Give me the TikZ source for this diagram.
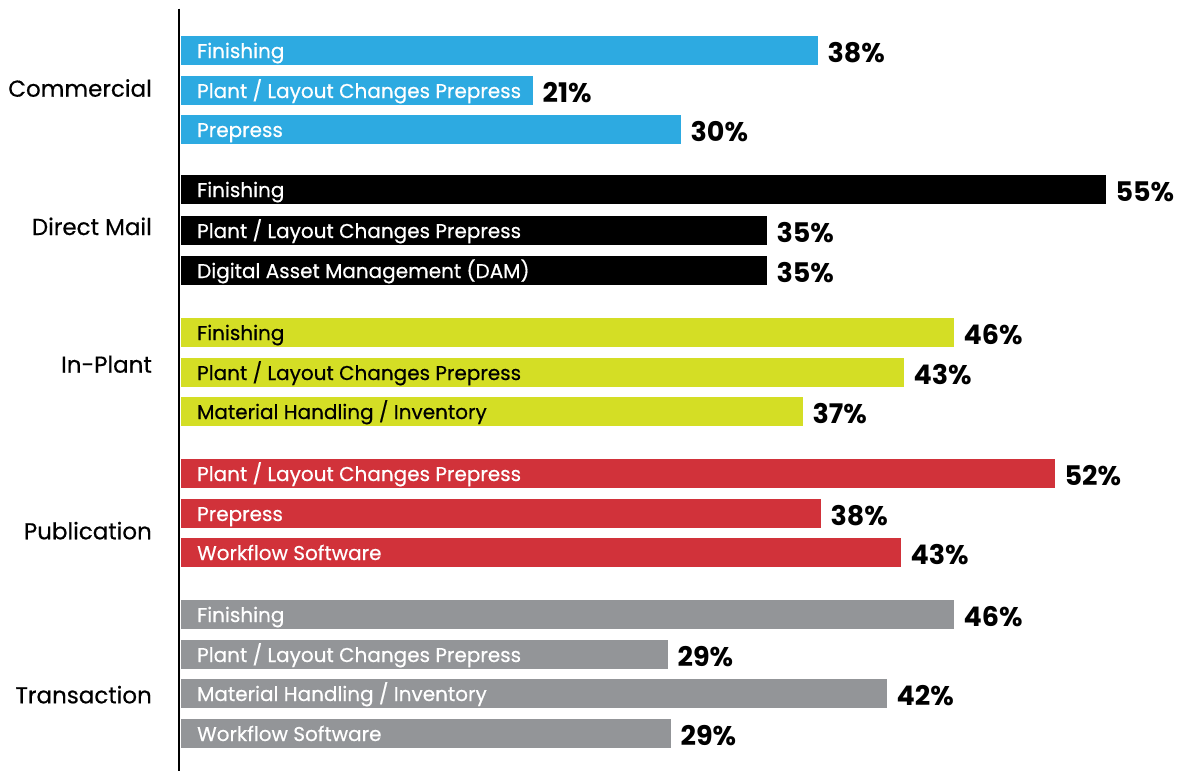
\documentclass[tikz,border=0pt]{standalone}
\usepackage{fontspec}
\setmainfont{Poppins}
\newfontfamily\medfont{Poppins}[FakeBold=0.5]
\definecolor{cblue}{HTML}{2DAAE1}
\definecolor{cblack}{HTML}{000000}
\definecolor{cyellow}{HTML}{D4DE25}
\definecolor{cred}{HTML}{D1323A}
\definecolor{cgray}{HTML}{939598}
\newcommand{\mybar}[6]{%
  \node[barbox, fill=#4, minimum width={#3-180.5}, anchor=north west] (#1) at (180.5,#2) {};
  \node[barlabel] (#1-t) at ([xshift=16.5pt,yshift=-22pt]#1.north west) {#5};
  \node[pctlabel] (#1-p) at ([xshift=9pt,yshift=-26pt]#1.north east) {#6};
}
\begin{document}
\begin{tikzpicture}[x=1pt,y=-1pt,
  barbox/.style={rectangle, draw=none, inner sep=0pt, minimum height=28.7pt},
  barlabel/.style={anchor=base west, inner sep=0pt, text=white, font=\medfont\fontsize{20}{24}\selectfont},
  pctlabel/.style={anchor=base west, inner sep=0pt, text=black, font=\fontsize{27}{30}\selectfont\bfseries},
  catlabel/.style={anchor=base east, inner sep=0pt, text=black, font=\medfont\fontsize{23}{26}\selectfont}]
\useasboundingbox[fill=white] (0,0) rectangle (1181,771);
\coordinate (axtop) at (179.3,8.5);
\coordinate (axbot) at (179.3,771);
\draw[line width=2pt, black] (axtop) -- (axbot);
% Commercial
\mybar{c1}{36}{818}{cblue}{Finishing}{38\%}
\mybar{c2}{76}{533}{cblue}{Plant / Layout Changes Prepress}{21\%}
\mybar{c3}{115}{681}{cblue}{Prepress}{30\%}
% Direct Mail
\mybar{d1}{175}{1106}{cblack}{Finishing}{55\%}
\mybar{d2}{216}{767}{cblack}{Plant / Layout Changes Prepress}{35\%}
\mybar{d3}{256}{767}{cblack}{Digital Asset Management (DAM)}{35\%}
% In-Plant
\mybar{i1}{318}{954}{cyellow}{\color{black}Finishing}{46\%}
\mybar{i2}{358}{904}{cyellow}{\color{black}Plant / Layout Changes Prepress}{43\%}
\mybar{i3}{397}{803}{cyellow}{\color{black}Material Handling / Inventory}{37\%}
% Publication
\mybar{p1}{459}{1055}{cred}{Plant / Layout Changes Prepress}{52\%}
\mybar{p2}{499}{821}{cred}{Prepress}{38\%}
\mybar{p3}{538}{901}{cred}{Workflow Software}{43\%}
% Transaction
\mybar{t1}{600}{954}{cgray}{Finishing}{46\%}
\mybar{t2}{640}{668}{cgray}{Plant / Layout Changes Prepress}{29\%}
\mybar{t3}{679}{887}{cgray}{Material Handling / Inventory}{42\%}
\mybar{t4}{719}{671}{cgray}{Workflow Software}{29\%}
% Categories
\node[catlabel] (cat1) at (152,96.7) {Commercial};
\node[catlabel] (cat2) at (152,235) {Direct Mail};
\node[catlabel] (cat3) at (152,372.7) {In-Plant};
\node[catlabel] (cat4) at (152,539.3) {Publication};
\node[catlabel] (cat5) at (152,703.3) {Transaction};
\end{tikzpicture}
\end{document}
